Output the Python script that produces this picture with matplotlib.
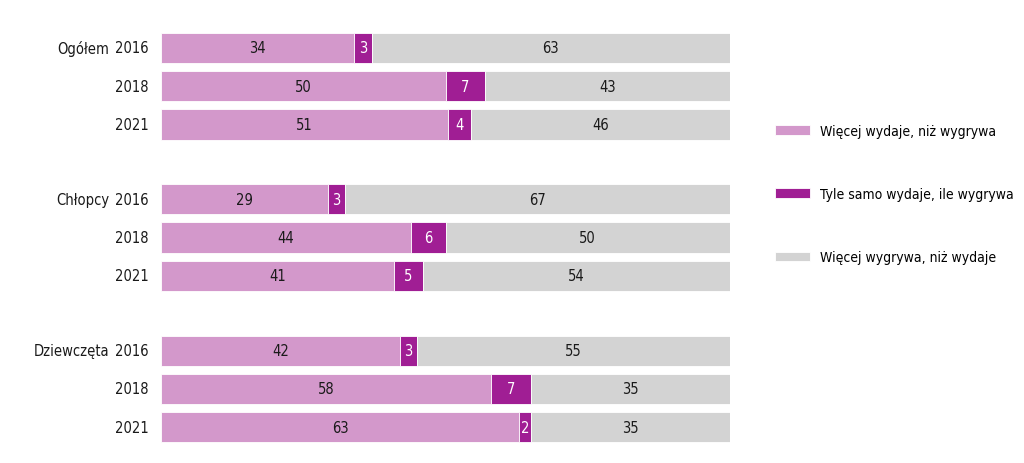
import numpy as np
import matplotlib.pyplot as plt
from matplotlib.patches import Patch

# condensed face, closest to the narrow font of the original
plt.rcParams['font.family'] = ['DejaVu Sans']
plt.rcParams['font.stretch'] = 'condensed'

groups = ['Ogółem', 'Chłopcy', 'Dziewczęta']
years = ['2016', '2018', '2021']
more_spend = [34, 50, 51, 29, 44, 41, 42, 58, 63]
same = [3, 7, 4, 3, 6, 5, 3, 7, 2]
more_win = [63, 43, 46, 67, 50, 54, 55, 35, 35]
series_names = ['Więcej wydaje, niż wygrywa',
                'Tyle samo wydaje, ile wygrywa',
                'Więcej wygrywa, niż wydaje']
colors = ['#D398CB', '#A01E94', '#D3D3D3']
text_colors = ['#1a1a1a', 'white', '#1a1a1a']

# row positions: 3 rows per group, gap between groups
group_step = 3.95
ypos = np.array([g * group_step + r for g in range(3) for r in range(3)])

fig = plt.figure(figsize=(10.24, 4.64), dpi=100)
ax = fig.add_axes([161 / 1024, 15 / 464, 569 / 1024, 420 / 464])

data = np.array([more_spend, same, more_win], dtype=float)
totals = data.sum(axis=0)
left = np.zeros(len(ypos))
for vals, col, tcol in zip(data, colors, text_colors):
    widths = vals / totals * 100
    ax.barh(ypos, widths, left=left, height=0.79, color=col,
            edgecolor='white', linewidth=0.6)
    for y, l, w, v in zip(ypos, left, widths, vals):
        ax.text(l + w / 2, y, str(int(v)), ha='center', va='center',
                fontsize=10.5, color=tcol)
    left += widths

ax.set_xlim(0, 100)
ax.set_ylim(10.44, -0.52)
ax.axis('off')

# year and group labels
for i, y in enumerate(ypos):
    ax.text(-2.2, y, years[i % 3], ha='right', va='center', fontsize=10.5,
            color='#1a1a1a')
for g, name in enumerate(groups):
    ax.text(-9.1, ypos[g * 3], name, ha='right', va='center', fontsize=10.5,
            color='#1a1a1a')

handles = [Patch(facecolor=c, edgecolor='white', linewidth=0.6) for c in colors]
fig.legend(handles, series_names, loc='center left',
           bbox_to_anchor=(775 / 1024, 1 - 195 / 464), frameon=False,
           fontsize=10, handlelength=2.5, handleheight=0.72,
           handletextpad=0.72, labelspacing=3.55, borderpad=0,
           borderaxespad=0)

fig.savefig('out.png', dpi=100, facecolor='white')
